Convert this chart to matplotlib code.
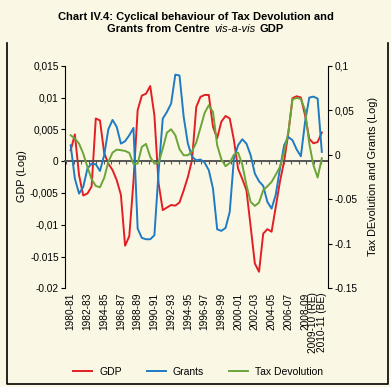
import numpy as np
import matplotlib.pyplot as plt
from matplotlib.lines import Line2D

plt.rcParams['font.family'] = ['Liberation Sans', 'DejaVu Sans']

# half-year steps from 1980-81 (0) to 2010-11 (30)
gdp = [0.0017, 0.0042, -0.0022, -0.0054, -0.0051, -0.0040, 0.0067, 0.0064, 0.0013, -0.0004,
       -0.0014, -0.0030, -0.0053, -0.0133, -0.0118, -0.0032, 0.0080, 0.0103, 0.0106, 0.0118,
       0.0072, -0.0035, -0.0077, -0.0073, -0.0069, -0.0070, -0.0065, -0.0046, -0.0025, 0.0002,
       0.0085, 0.0101, 0.0104, 0.0104, 0.0054, 0.0036, 0.0062, 0.0071, 0.0067, 0.0033,
       -0.0012, -0.0028, -0.0046, -0.0103, -0.0161, -0.0174, -0.0114, -0.0107, -0.0111, -0.0072,
       -0.0032, 0.0000, 0.0044, 0.0099, 0.0102, 0.0100, 0.0072, 0.0035, 0.0028, 0.0030,
       0.0045]
grants = [0.0107, -0.0268, -0.0436, -0.0362, -0.0155, -0.0099, -0.0107, -0.0182, -0.0006, 0.0286,
          0.0391, 0.0313, 0.0125, 0.0152, 0.0219, 0.0301, -0.0829, -0.0934, -0.0949, -0.0949,
          -0.0904, -0.0193, 0.0406, 0.0481, 0.0575, 0.0900, 0.0890, 0.0425, 0.0125, -0.0024,
          -0.0062, -0.0054, -0.0088, -0.0174, -0.0380, -0.0837, -0.0855, -0.0822, -0.0642, -0.0043,
          0.0107, 0.0174, 0.0125, -0.0006, -0.0212, -0.0298, -0.0350, -0.0530, -0.0605, -0.0447,
          -0.0155, 0.0107, 0.0200, 0.0163, 0.0058, -0.0017, 0.0369, 0.0642, 0.0653, 0.0631,
          0.0032]
tax_devolution = [0.0219, 0.0182, 0.0125, 0.0013, -0.0137, -0.0275, -0.0350, -0.0365, -0.0260, -0.0080,
                  0.0024, 0.0058, 0.0051, 0.0043, 0.0021, -0.0103, -0.0099, 0.0088, 0.0122, -0.0024,
                  -0.0099, -0.0092, 0.0069, 0.0249, 0.0286, 0.0219, 0.0062, -0.0006, -0.0006, 0.0039,
                  0.0137, 0.0301, 0.0470, 0.0556, 0.0481, 0.0107, -0.0051, -0.0129, -0.0092, 0.0002,
                  0.0024, -0.0110, -0.0343, -0.0530, -0.0575, -0.0537, -0.0399, -0.0354, -0.0305, -0.0223,
                  -0.0137, 0.0032, 0.0256, 0.0623, 0.0638, 0.0627, 0.0500, 0.0125, -0.0118, -0.0256,
                  -0.0040]

year_labels = ['1980-81', '1982-83', '1984-85', '1986-87', '1988-89', '1990-91', '1992-93',
               '1994-95', '1996-97', '1998-99', '2000-01', '2002-03', '2004-05', '2006-07',
               '2008-09', '2009-10 (RE)', '2010-11 (BE)']
label_years = [0, 2, 4, 6, 8, 10, 12, 14, 16, 18, 20, 22, 24, 26, 28, 29, 30]

left_ticks = [0.015, 0.01, 0.005, 0, -0.005, -0.01, -0.015, -0.02]
left_labels = ['0,015', '0,01', '0,005', '0', '-0,005', '-0,01', '-0.015', '-0.02']
right_ticks = [0.1, 0.05, 0, -0.05, -0.1, -0.15]
right_labels = ['0,1', '0,05', '0', '-0.05', '-0.1', '-0.15']

bg = '#FAF8E4'
red, blue, green = '#E31E24', '#1F7BC4', '#6BA539'
x = np.arange(len(gdp)) / 2

fig = plt.figure(figsize=(3.91, 3.87), dpi=100, facecolor=bg)
ax = fig.add_axes([0.1662, 0.255, 0.6727, 0.5752])
ax.set_facecolor('none')
ax2 = ax.twinx()

l1, = ax.plot(x, gdp, color=red, lw=1.4, label='GDP')
l2, = ax2.plot(x, grants, color=blue, lw=1.4, label='Grants')
l3, = ax2.plot(x, tax_devolution, color=green, lw=1.4, label='Tax Devolution')

ax.set_xlim(-0.68, 30.74)
ax.set_ylim(-0.02, 0.015)
ax2.set_ylim(-0.15, 0.1)

for s in ['top', 'right']:
    ax.spines[s].set_visible(False)
ax.spines['bottom'].set_position(('data', 0))
ax.spines['bottom'].set_color('#555555')
ax.spines['bottom'].set_linewidth(1.4)
for s in ['top', 'left', 'bottom']:
    ax2.spines[s].set_visible(False)

ax.set_yticks(left_ticks, left_labels)
ax2.set_yticks(right_ticks, right_labels)
ax.tick_params(axis='y', length=3, pad=1.5, labelsize=7.3)
ax2.tick_params(axis='y', length=3, pad=1.5, labelsize=7.3)

# category tick marks on the zero line
ax.set_xticks(0.358 + 0.896 * np.arange(-1, 34))
ax.tick_params(axis='x', length=2.5, width=0.8, color='#555555', labelbottom=False)

sec = ax.secondary_xaxis('bottom')
sec.spines['bottom'].set_visible(False)
sec.set_xticks(label_years, year_labels, rotation=90)
sec.tick_params(length=0, pad=3, labelsize=7.3)

fig.text(22 / 391, 1 - 176 / 387, 'GDP (Log)', rotation=90, ha='center', va='center', fontsize=7.8)
fig.text(372.5 / 391, 1 - 176 / 387, 'Tax DEvolution and Grants (Log)', rotation=90,
         ha='center', va='center', fontsize=7.8)

# title, second line mixes bold and italic
tsize = 8.0
fig.text(0.5, 1 - 19.8 / 387, 'Chart IV.4: Cyclical behaviour of Tax Devolution and',
         ha='center', va='baseline', fontsize=tsize, fontweight='bold')
r = fig.canvas.get_renderer()
parts = [fig.text(0, 1 - 31.8 / 387, 'Grants from Centre', fontsize=tsize, fontweight='bold', va='baseline'),
         fig.text(0, 1 - 31.8 / 387, 'vis-a-vis', fontsize=tsize, fontstyle='italic', va='baseline'),
         fig.text(0, 1 - 31.8 / 387, 'GDP', fontsize=tsize, fontweight='bold', va='baseline')]
gap = 4.5
widths = [t.get_window_extent(r).width for t in parts]
xpos = (391 - sum(widths) - gap * 2) / 2
for t, w in zip(parts, widths):
    t.set_x(xpos / 391)
    xpos += w + gap

fig.legend(handles=[l1, l2, l3], loc='center', bbox_to_anchor=(0.507, 1 - 371.7 / 387),
           ncol=3, frameon=False, fontsize=7.5, handlelength=1.8, handletextpad=0.7,
           columnspacing=2.4)

# open frame round the chart
fx = [7 / 391, 7 / 391, 388 / 391, 388 / 391]
fy = [1 - 43 / 387, 1 - 384 / 387, 1 - 384 / 387, 1 - 43 / 387]
fig.add_artist(Line2D(fx, fy, color='black', lw=1.2, transform=fig.transFigure))

fig.savefig('out.png', dpi=100, facecolor=bg)
